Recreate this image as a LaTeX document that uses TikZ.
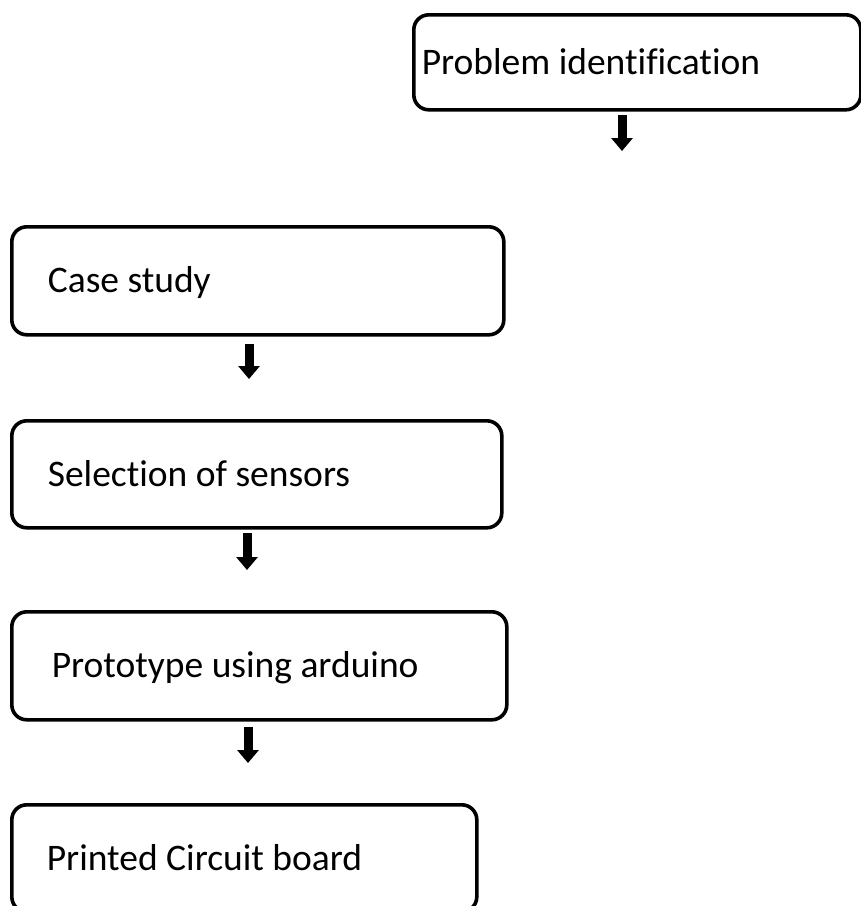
\documentclass[tikz,border=0pt]{standalone}
\usepackage{fontspec}
\setmainfont[Ligatures=NoCommon]{Carlito}
\usetikzlibrary{arrows.meta}
\newcommand{\lbox}[2]{\makebox[#1][l]{#2}}
\begin{document}
\begin{tikzpicture}[x=1pt,y=-1pt,
  stepbox/.style={draw=black, line width=3.6pt, rounded corners=15pt, fill=white,
    anchor=north west, text height=33pt, text depth=9pt, inner ysep=0pt,
    font=\fontsize{37.5}{44}\selectfont},
  flowarrow/.style={line width=9pt, -{Triangle[width=21pt,length=13pt]}}]
\useasboundingbox (0,0) rectangle (861,906);
\fill[white] (0,0) rectangle (861,906);
\node[stepbox, minimum width=447pt, minimum height=95pt, inner xsep=8pt] (prob) at (412,13) {\lbox{431pt}{Problem identification}};
\node[stepbox, minimum width=492pt, minimum height=108pt, inner xsep=36pt] (case) at (10,225) {\lbox{420pt}{Case study}};
\node[stepbox, minimum width=490pt, minimum height=107pt, inner xsep=36pt] (sel) at (10,419) {\lbox{418pt}{Selection of sensors}};
\node[stepbox, minimum width=495pt, minimum height=108pt, inner xsep=40pt] (proto) at (10,610) {\lbox{415pt}{Prototype using arduino}};
\node[stepbox, minimum width=465pt, minimum height=107pt, inner xsep=35pt] (pcb) at (10,803) {\lbox{395pt}{Printed Circuit board}};
\coordinate (a1s) at (622,115); \coordinate (a1e) at (622,151);
\coordinate (a2s) at (249,344); \coordinate (a2e) at (249,379);
\coordinate (a3s) at (247,533); \coordinate (a3e) at (247,570);
\coordinate (a4s) at (248,727); \coordinate (a4e) at (248,763);
\draw[flowarrow] (a1s) -- (a1e);
\draw[flowarrow] (a2s) -- (a2e);
\draw[flowarrow] (a3s) -- (a3e);
\draw[flowarrow] (a4s) -- (a4e);
\end{tikzpicture}
\end{document}
